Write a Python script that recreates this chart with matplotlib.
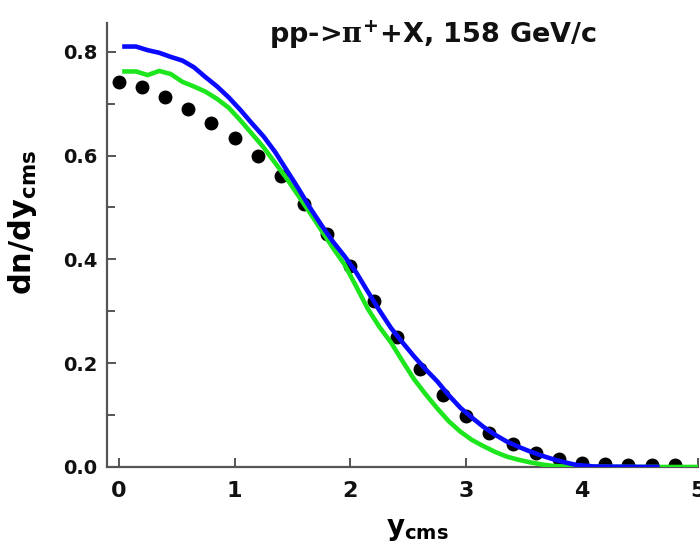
import numpy as np
import matplotlib
matplotlib.use("Agg")
import matplotlib.pyplot as plt
from matplotlib.ticker import MultipleLocator, FormatStrFormatter

plt.rcParams['font.family'] = ['DejaVu Sans']
plt.rcParams['font.weight'] = 'bold'
plt.rcParams['axes.labelweight'] = 'bold'
plt.rcParams['mathtext.fontset'] = 'custom'
plt.rcParams['mathtext.rm'] = 'DejaVu Sans:bold'
plt.rcParams['mathtext.it'] = 'DejaVu Serif'
plt.rcParams['mathtext.bf'] = 'DejaVu Sans:bold'

# data points (black dots)
data_x = [0.0, 0.2, 0.4, 0.6, 0.8, 1.0, 1.2, 1.4, 1.6, 1.8, 2.0, 2.2, 2.4,
          2.6, 2.8, 3.0, 3.2, 3.4, 3.6, 3.8, 4.0, 4.2, 4.4, 4.6, 4.8]
data_y = [0.742, 0.733, 0.712, 0.689, 0.662, 0.634, 0.600, 0.560, 0.507,
          0.448, 0.387, 0.320, 0.251, 0.189, 0.138, 0.098, 0.066, 0.044,
          0.026, 0.015, 0.008, 0.005, 0.004, 0.003, 0.003]

# model curve 1 (green)
green_x = [0.05, 0.15, 0.25, 0.35, 0.45, 0.55, 0.65, 0.75, 0.85, 0.95, 1.05,
           1.15, 1.25, 1.35, 1.45, 1.55, 1.65, 1.75, 1.85, 1.95, 2.05, 2.15,
           2.25, 2.35, 2.45, 2.55, 2.65, 2.75, 2.85, 2.95, 3.05, 3.15, 3.25,
           3.35, 3.45, 3.55, 3.65, 3.75, 3.85, 4.0, 4.5, 5.0]
green_y = [0.762, 0.762, 0.755, 0.763, 0.757, 0.742, 0.733, 0.723, 0.709,
           0.692, 0.668, 0.642, 0.616, 0.586, 0.556, 0.523, 0.490, 0.456,
           0.422, 0.390, 0.348, 0.305, 0.270, 0.240, 0.204, 0.169, 0.140,
           0.113, 0.088, 0.068, 0.052, 0.040, 0.029, 0.020, 0.014, 0.009,
           0.005, 0.002, 0.001, 0.0005, 0.0, 0.0]

# model curve 2 (blue)
blue_x = [0.05, 0.15, 0.25, 0.35, 0.45, 0.55, 0.65, 0.75, 0.85, 0.95, 1.05,
          1.15, 1.25, 1.35, 1.45, 1.55, 1.65, 1.75, 1.85, 1.95, 2.05, 2.15,
          2.25, 2.35, 2.45, 2.55, 2.65, 2.75, 2.85, 2.95, 3.05, 3.15, 3.25,
          3.35, 3.45, 3.55, 3.65, 3.75, 3.85, 3.95, 4.1, 4.65]
blue_y = [0.810, 0.810, 0.803, 0.798, 0.790, 0.783, 0.770, 0.751, 0.733,
          0.712, 0.688, 0.662, 0.637, 0.607, 0.572, 0.537, 0.500, 0.466,
          0.434, 0.406, 0.375, 0.338, 0.302, 0.268, 0.240, 0.213, 0.188,
          0.165, 0.138, 0.114, 0.095, 0.077, 0.062, 0.049, 0.039, 0.030,
          0.022, 0.015, 0.009, 0.004, 0.001, 0.0]

fig = plt.figure(figsize=(7.0, 5.52), dpi=100)
ax = fig.add_axes([0.153, 0.154, 0.844, 0.804])

ax.plot(data_x, data_y, 'o', color='black', ms=9, zorder=2)
ax.plot(green_x, green_y, color='#1ee61e', lw=3.3, zorder=3)
ax.plot(blue_x, blue_y, color='#0a0aff', lw=3.3, zorder=4)

ax.set_xlim(-0.1, 5.0)
ax.set_ylim(0.0, 0.855)
ax.spines['top'].set_visible(False)
ax.spines['right'].set_visible(False)
for s in ('left', 'bottom'):
    ax.spines[s].set_color('#555555')
    ax.spines[s].set_linewidth(1.6)

ax.xaxis.set_major_locator(MultipleLocator(1))
ax.yaxis.set_major_locator(MultipleLocator(0.2))
ax.yaxis.set_minor_locator(MultipleLocator(0.1))
ax.yaxis.set_major_formatter(FormatStrFormatter('%.1f'))
ax.tick_params(which='both', direction='in', color='#555555', width=1.4,
               labelcolor='#111111')
ax.tick_params(which='major', length=6.5)
ax.tick_params(which='minor', length=5.5)
ax.tick_params(axis='y', labelsize=14, pad=7)
ax.tick_params(axis='x', labelsize=16, pad=10)
for lab in ax.get_xticklabels() + ax.get_yticklabels():
    lab.set_fontweight('bold')

ax.set_xlabel(r'y$_{\mathregular{cms}}$', fontsize=20, fontweight='bold')
ax.set_ylabel(r'dn/dy$_{\mathregular{cms}}$', fontsize=22, fontweight='bold')
ax.xaxis.set_label_coords(0.525, -0.108)
ax.yaxis.set_label_coords(-0.115, 0.552)

fig.text(0.619, 0.922, r'pp->$\pi^{+}$+X, 158 GeV/c', ha='center',
         va='baseline', fontsize=19.5, fontweight='bold', color='#111111')

fig.savefig('out.png', dpi=100)
